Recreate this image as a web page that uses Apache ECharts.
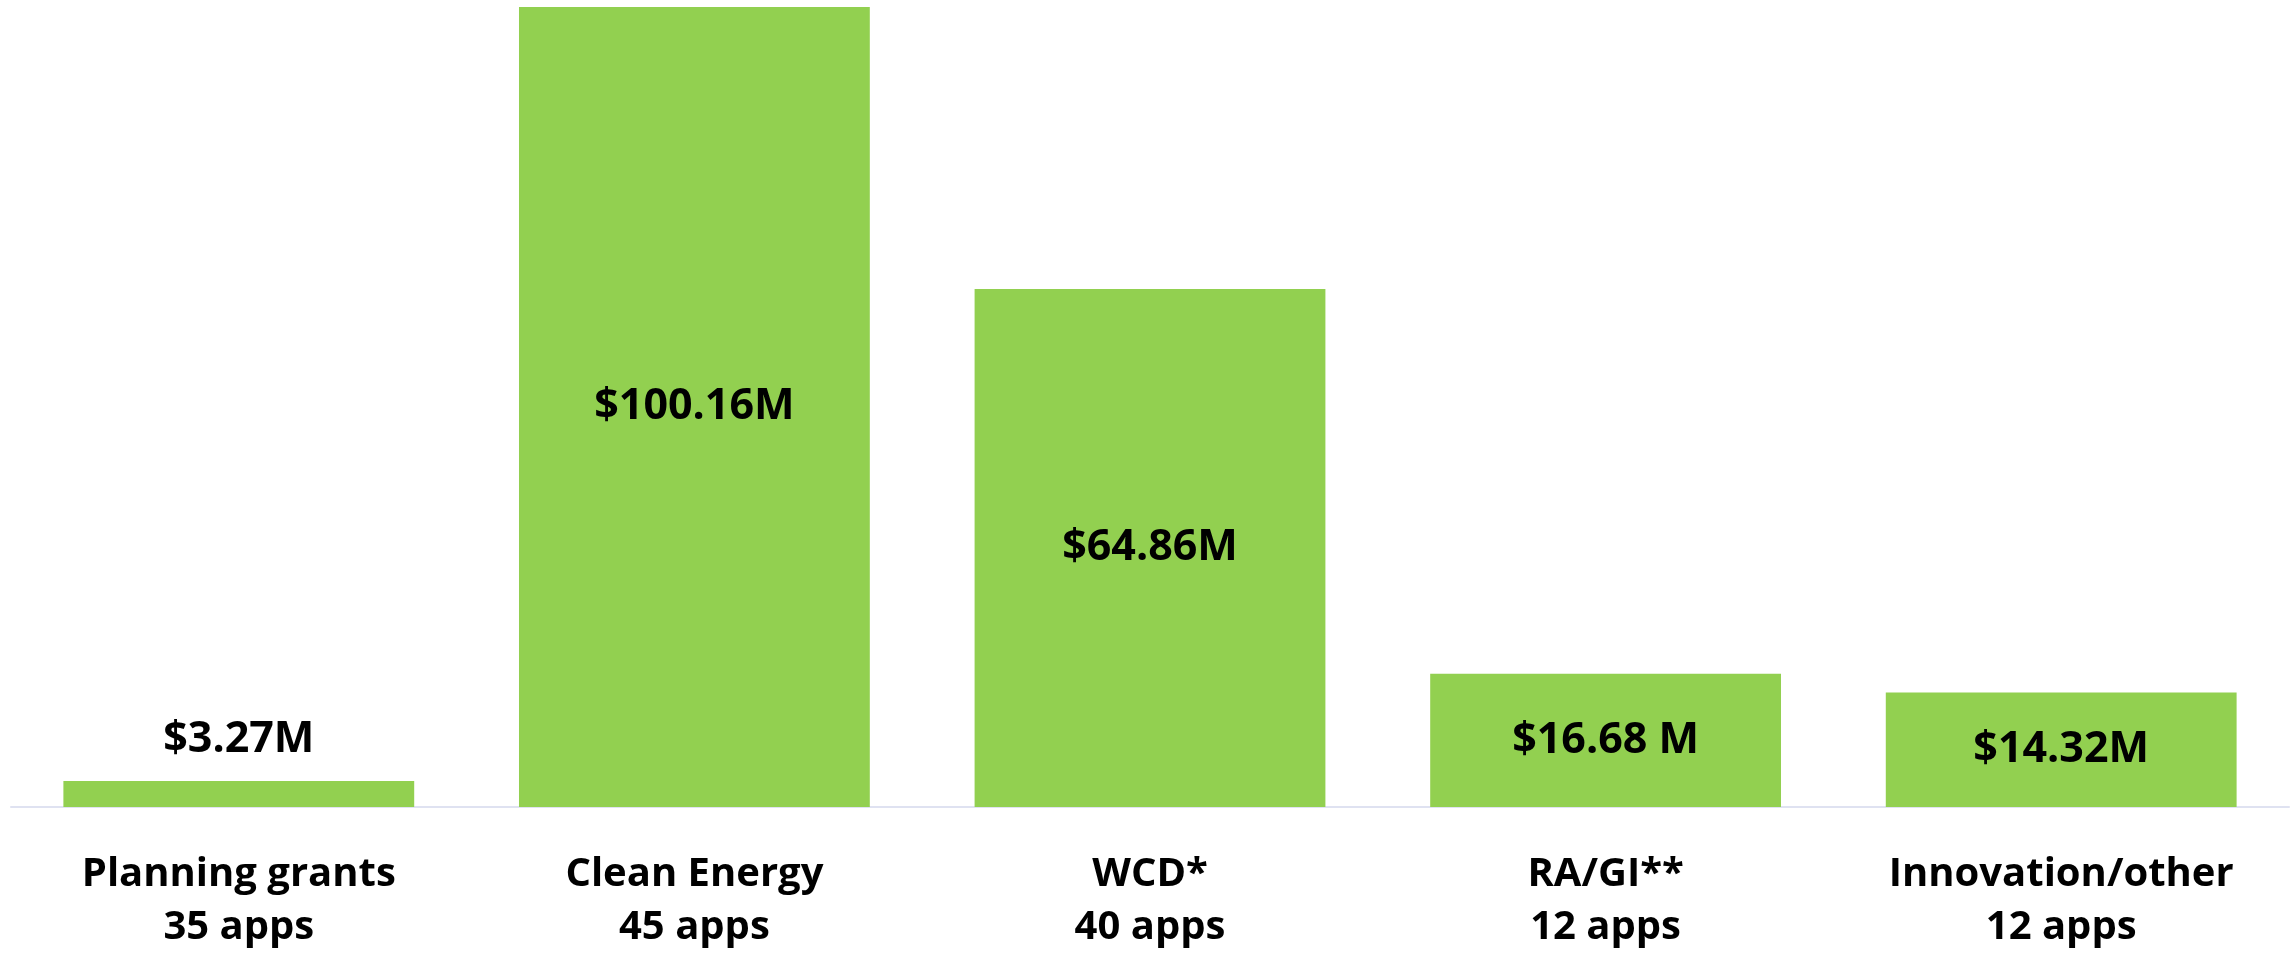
<!DOCTYPE html>
<html>
<head>
<meta charset="utf-8">
<script src="https://cdn.jsdelivr.net/npm/echarts@6/dist/echarts.min.js"></script>
<style>
  html, body { margin: 0; padding: 0; background: #fff; }
  #chart { width: 2290px; height: 954px; }
</style>
</head>
<body>
<div id="chart"></div>
<script>
const categories = ["Planning grants", "Clean Energy", "WCD*", "RA/GI**", "Innovation/other"];
const appCounts = [35, 45, 40, 12, 12];
const amounts = [3.27, 100.16, 64.86, 16.68, 14.32];
const amountLabels = ["$3.27M", "$100.16M", "$64.86M", "$16.68 M", "$14.32M"];

const chart = echarts.init(document.getElementById("chart"));

const xLabels = categories.map((c, i) => c + "\n" + appCounts[i] + " apps");

const option = {
  animation: false,
  grid: { left: 11, right: 1, top: 7, bottom: 141 },
  xAxis: {
    type: "category",
    data: xLabels,
    axisTick: { show: false },
    axisLine: { lineStyle: { color: "#dfe2f1", width: 2 } },
    axisLabel: {
      color: "#000",
      fontFamily: "Open Sans",
      fontWeight: "bold",
      fontSize: 40,
      lineHeight: 53,
      margin: 41,
      interval: 0,
    },
  },
  yAxis: {
    type: "value",
    min: 0,
    max: 100.16,
    show: false,
    splitLine: { show: false },
  },
  series: [
    {
      type: "bar",
      data: amounts.map((v, i) => ({
        value: v,
        label: i === 0 ? { position: "top", distance: 20 } : {},
      })),
      barWidth: "77%",
      itemStyle: { color: "#92d050" },
      label: {
        show: true,
        position: "inside",
        color: "#000",
        fontFamily: "Open Sans",
        fontWeight: "bold",
        fontSize: 43,
        formatter: (p) => amountLabels[p.dataIndex],
      },
    },
  ],
};

chart.setOption(option);
</script>
</body>
</html>
